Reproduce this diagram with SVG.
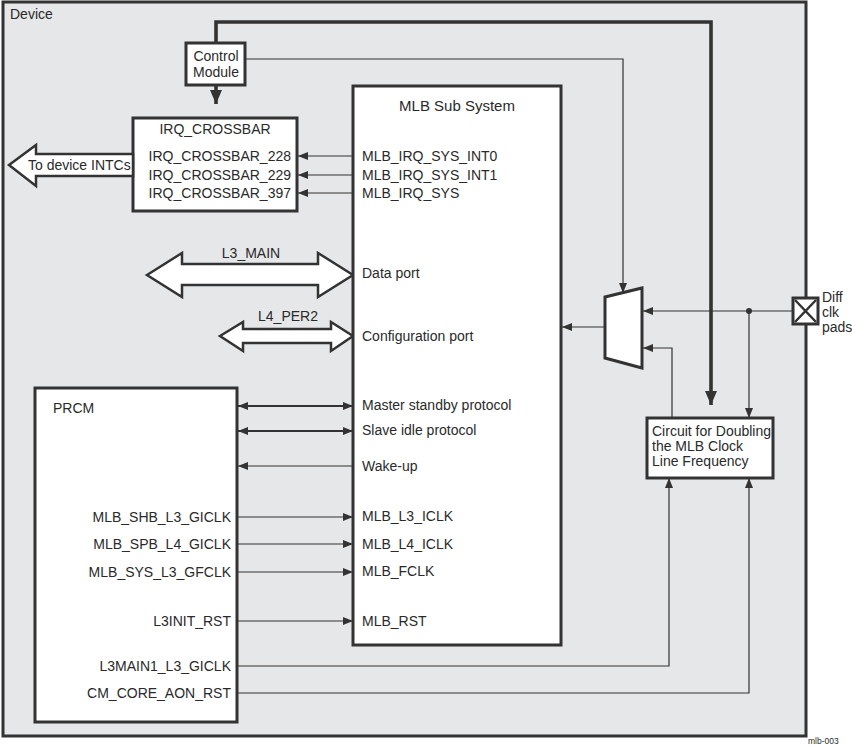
<svg xmlns="http://www.w3.org/2000/svg" width="852" height="746" viewBox="0 0 852 746">
<style>
text{font-family:"Liberation Sans",Arial,sans-serif;font-size:14px;fill:#2a2a2a}
.big{font-size:15px}
.small{font-size:8.5px}
.box{fill:#fff;stroke:#333;stroke-width:3}
.thin{fill:none;stroke:#333;stroke-width:1.2}
.med{fill:none;stroke:#333;stroke-width:2}
.thick{fill:none;stroke:#333;stroke-width:3.6}
.blk{fill:#fff;stroke:#333;stroke-width:2.5;stroke-linejoin:miter}
</style>
<defs>
<marker id="ah" markerUnits="userSpaceOnUse" markerWidth="10" markerHeight="10" viewBox="0 0 10 10" refX="10" refY="5" orient="auto-start-reverse"><path d="M0,1 L10,5 L0,9 Z" fill="#333"/></marker>
<marker id="ahb" markerUnits="userSpaceOnUse" markerWidth="14" markerHeight="14" viewBox="0 0 14 14" refX="14" refY="7" orient="auto"><path d="M0,1 L14,7 L0,13 Z" fill="#333"/></marker>
</defs>
<rect x="0" y="0" width="852" height="746" fill="#fff"/>
<g id="device">
<rect x="3" y="2" width="803" height="734" fill="#e6e7e8" stroke="#333" stroke-width="3"/>
<text x="10" y="19">Device</text>
</g>
<g id="connectors">
<polyline class="thick" points="216,43 216,22 711,22 711,405" marker-end="url(#ahb)"/>
<line class="thick" x1="216" y1="85" x2="216" y2="104" marker-end="url(#ahb)"/>
<polyline class="thin" points="245,59 623,59 623,293" marker-end="url(#ah)"/>
<line class="thin" x1="353" y1="156" x2="298" y2="156" marker-end="url(#ah)"/>
<line class="thin" x1="353" y1="175" x2="298" y2="175" marker-end="url(#ah)"/>
<line class="thin" x1="353" y1="193" x2="298" y2="193" marker-end="url(#ah)"/>
<line class="med" x1="238" y1="406" x2="353" y2="406" marker-start="url(#ah)" marker-end="url(#ah)"/>
<line class="med" x1="238" y1="431" x2="353" y2="431" marker-start="url(#ah)" marker-end="url(#ah)"/>
<line class="thin" x1="353" y1="466" x2="238" y2="466" marker-end="url(#ah)"/>
<line class="thin" x1="237" y1="517" x2="353" y2="517" marker-end="url(#ah)"/>
<line class="thin" x1="237" y1="544" x2="353" y2="544" marker-end="url(#ah)"/>
<line class="thin" x1="237" y1="572" x2="353" y2="572" marker-end="url(#ah)"/>
<line class="thin" x1="237" y1="621" x2="353" y2="621" marker-end="url(#ah)"/>
<polyline class="thin" points="237,666 669,666 669,478" marker-end="url(#ah)"/>
<polyline class="thin" points="237,693 749,693 749,478" marker-end="url(#ah)"/>
<line class="thin" x1="605" y1="327" x2="562" y2="327" marker-end="url(#ah)"/>
<line class="thin" x1="792" y1="311" x2="643" y2="311" marker-end="url(#ah)"/>
<line class="thin" x1="749" y1="311" x2="749" y2="418" marker-end="url(#ah)"/>
<polyline class="thin" points="672,418 672,348 643,348" marker-end="url(#ah)"/>
<circle cx="749" cy="311" r="3" fill="#333"/>
</g>
<g id="control-module">
<rect class="box" x="186" y="43" width="59" height="42"/>
<text x="216" y="61" text-anchor="middle">Control</text>
<text x="216" y="77" text-anchor="middle">Module</text>
</g>
<g id="irq-crossbar">
<rect class="box" x="133" y="118" width="164" height="93"/>
<text x="215" y="134" text-anchor="middle">IRQ_CROSSBAR</text>
<text x="291" y="161" text-anchor="end">IRQ_CROSSBAR_228</text>
<text x="291" y="180" text-anchor="end">IRQ_CROSSBAR_229</text>
<text x="291" y="198" text-anchor="end">IRQ_CROSSBAR_397</text>
</g>
<g id="to-intcs">
<polygon class="blk" points="133,154 36,154 36,145 9,165 36,186 36,176 133,176"/>
<text x="28" y="170">To device INTCs</text>
</g>
<g id="l3-main">
<polygon class="blk" points="147,275 182,253 182,264 318,264 318,253 353,275 318,297 318,285 182,285 182,297"/>
<text x="251" y="258" text-anchor="middle">L3_MAIN</text>
</g>
<g id="l4-per2">
<polygon class="blk" points="220,336 243,322 243,329 331,329 331,322 353,336 331,351 331,343 243,343 243,351"/>
<text x="288" y="321" text-anchor="middle">L4_PER2</text>
</g>
<g id="mlb-subsystem">
<rect class="box" x="353" y="86" width="208" height="559"/>
<text class="big" x="457" y="111" text-anchor="middle">MLB Sub System</text>
<text x="362" y="161">MLB_IRQ_SYS_INT0</text>
<text x="362" y="180">MLB_IRQ_SYS_INT1</text>
<text x="362" y="198">MLB_IRQ_SYS</text>
<text x="362" y="278">Data port</text>
<text x="362" y="341">Configuration port</text>
<text x="362" y="410">Master standby protocol</text>
<text x="362" y="435">Slave idle protocol</text>
<text x="362" y="471">Wake-up</text>
<text x="362" y="521">MLB_L3_ICLK</text>
<text x="362" y="549">MLB_L4_ICLK</text>
<text x="362" y="576">MLB_FCLK</text>
<text x="362" y="626">MLB_RST</text>
</g>
<g id="prcm">
<rect class="box" x="35" y="388" width="202" height="334"/>
<text x="53" y="413">PRCM</text>
<text x="231" y="522" text-anchor="end">MLB_SHB_L3_GICLK</text>
<text x="231" y="549" text-anchor="end">MLB_SPB_L4_GICLK</text>
<text x="231" y="577" text-anchor="end">MLB_SYS_L3_GFCLK</text>
<text x="231" y="626" text-anchor="end">L3INIT_RST</text>
<text x="231" y="671" text-anchor="end">L3MAIN1_L3_GICLK</text>
<text x="231" y="698" text-anchor="end">CM_CORE_AON_RST</text>
</g>
<g id="mux">
<polygon class="box" points="605,297 642,288 642,368 605,358"/>
</g>
<g id="doubler">
<rect class="box" x="647" y="418" width="126" height="60" stroke-width="2.5"/>
<text x="652" y="436">Circuit for Doubling</text>
<text x="652" y="451">the MLB Clock</text>
<text x="652" y="466">Line Frequency</text>
</g>
<g id="diff-pads">
<rect x="793" y="298" width="25" height="26" fill="#fff" stroke="#333" stroke-width="3"/>
<path d="M795,300 L816,322 M816,300 L795,322" stroke="#333" stroke-width="2.5"/>
<text x="822" y="302">Diff</text>
<text x="822" y="317">clk</text>
<text x="822" y="332">pads</text>
</g>
<text class="small" x="808" y="744">mlb-003</text>
</svg>
